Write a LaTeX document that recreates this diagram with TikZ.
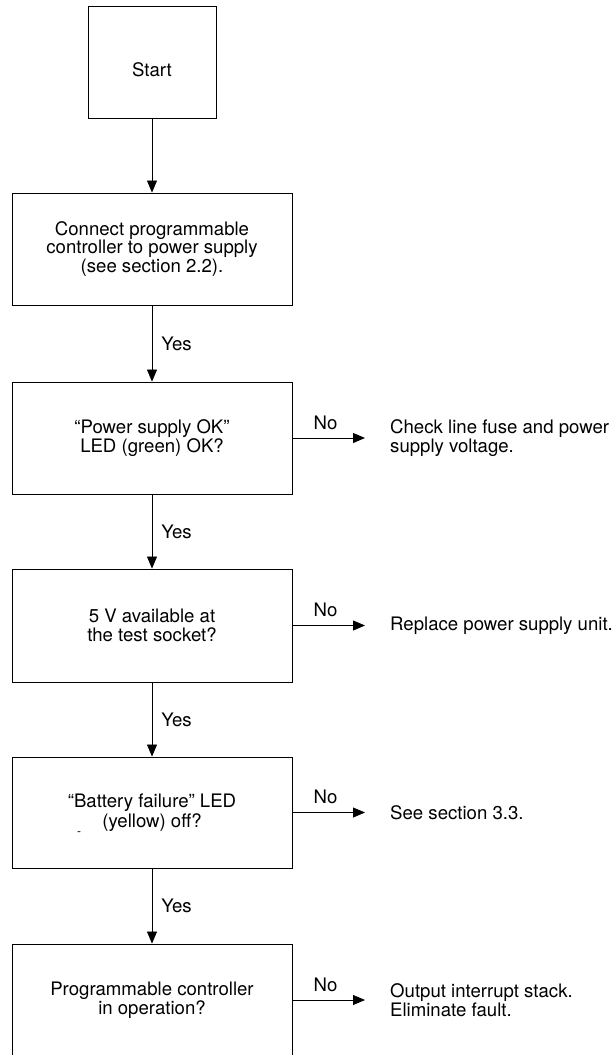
\documentclass[tikz,border=0pt]{standalone}
\usepackage{fontspec}
\setmainfont{TeX Gyre Heros}
\usetikzlibrary{arrows.meta}

\begin{document}
\begin{tikzpicture}[x=1pt,y=-1pt,
  stepbox/.style={draw, line width=.9pt, minimum width=280pt, minimum height=112pt, inner sep=0pt, align=center, font=\fontsize{18.6}{19.5}\selectfont},
  flow/.style={line width=.8pt, -{Triangle[length=12pt,width=10pt]}},
  lbl/.style={inner sep=0pt, font=\fontsize{18.6}{19.5}\selectfont},
  remedy/.style={anchor=west, align=left, inner sep=0pt, font=\fontsize{18.6}{19.5}\selectfont}]
\path[use as bounding box, fill=white] (0,0) rectangle (615,1055);
\node[stepbox, minimum width=128pt, text height=29pt] (start) at (152,62) {Start};
\node[stepbox, font=\fontsize{18.6}{17}\selectfont] (connect) at (152,249) {Connect programmable\\controller to power supply\\(see section 2.2).};
\node[stepbox] (psok) at (152,438) {``Power supply OK''\\LED (green) OK?};
\node[stepbox, minimum height=113pt] (fivev) at (152,625.5) {5 V available at\\the test socket?};
\node[stepbox, minimum height=111pt] (batt) at (152,812.5) {``Battery failure'' LED\\(yellow) off?};
\node[stepbox] (inop) at (152,1000) {Programmable controller\\in operation?};
\node[inner sep=0pt, font=\fontsize{12}{12}\selectfont] (mark) at (79,834) {-};
\node[remedy] (fuse) at (390,438) {Check line fuse and power\\supply voltage.};
\node[remedy] (psu) at (390,625.5) {Replace power supply unit.};
\node[remedy] (sec) at (390,812.5) {See section 3.3.};
\node[remedy] (stack) at (390,1000) {Output interrupt stack.\\Eliminate fault.};
\draw[flow] (start.south) -- (connect.north);
\foreach \a/\b in {connect/psok, psok/fivev, fivev/batt, batt/inop}
  \draw[flow] (\a.south) -- node[lbl, right=9pt] {Yes} (\b.north);
\foreach \a/\b in {psok/fuse, fivev/psu, batt/sec, inop/stack}
  \draw[flow, shorten >=25pt] (\a.east) -- node[lbl, above=8pt, pos=.34] {No} (\b.west);
\end{tikzpicture}
\end{document}
